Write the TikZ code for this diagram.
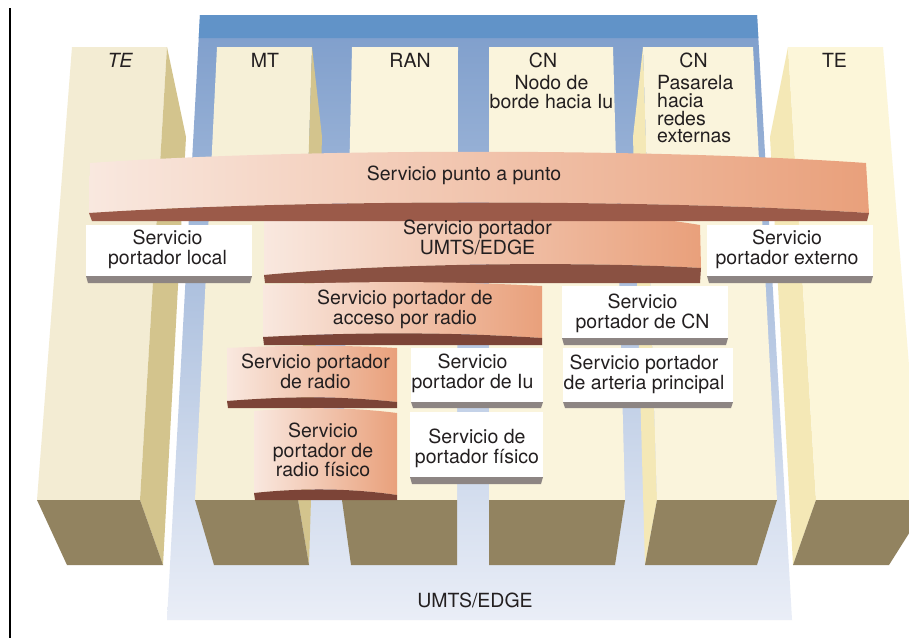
\documentclass[tikz,border=0pt]{standalone}
\usepackage{fontspec}
\setmainfont{TeX Gyre Heros}
\definecolor{txt}{HTML}{231F20}
\definecolor{bartop}{HTML}{6193C8}
\definecolor{frametop}{HTML}{7D9DCB}
\definecolor{framebot}{HTML}{EAEEF7}
\definecolor{tan}{HTML}{D3C48D}
\definecolor{ylw}{HTML}{F4E8B6}
\definecolor{foot}{HTML}{928360}
\definecolor{creamA}{HTML}{F3ECD3}
\definecolor{creamB}{HTML}{F6F0D7}
\definecolor{creamC}{HTML}{FAF4DC}
\definecolor{creamD}{HTML}{FCF6D9}
\definecolor{bandL}{HTML}{F9E8DF}
\definecolor{bandR}{HTML}{E9A07B}
\definecolor{brownA}{HTML}{9B5A49}
\definecolor{brownB}{HTML}{8A5142}
\definecolor{brownC}{HTML}{7C4437}
\definecolor{greyedge}{HTML}{8D8583}
\begin{document}
\begin{tikzpicture}[x=1pt,y=-1pt,
  lbl/.style={font=\fontsize{19.5}{19.3}\selectfont,align=center,text=txt,inner sep=0pt,anchor=north},
  band/.style={left color=bandL,right color=bandR},
  wbox/.style={fill=white},
  wedge/.style={fill=greyedge}]
\useasboundingbox (0,0) rectangle (909,638);
\clip (0,0) rectangle (909,638);
\fill[white] (0,0) rectangle (909,638);
% left rule
\draw[line width=1.6pt,black] (10,8) -- (10,638);
% blue frame
\shade[top color=frametop,bottom color=framebot] (200,15) -- (757,15) -- (792,620) -- (167,620) -- cycle;
\fill[bartop] (200,15) -- (757,15) -- (758.3,38) -- (198.7,38) -- cycle;
% TE left
\fill[creamA] (72,47) -- (167,47) -- (140,500) -- (37,500) -- cycle;
\fill[tan] (167,47) -- (186,137) -- (163,565) -- (140,500) -- cycle;
\fill[foot] (37,500) -- (140,500) -- (163,565) -- (67,565) -- cycle;
% MT
\fill[creamB] (217,47) -- (312,47) -- (298,500) -- (195,500) -- cycle;
\fill[tan] (312,47) -- (322,137) -- (309,565) -- (298,500) -- cycle;
\fill[foot] (195,500) -- (298,500) -- (309,565) -- (214,565) -- cycle;
% RAN
\fill[creamC] (352,47) -- (458,47) -- (457,500) -- (342,500) -- cycle;
\fill[foot] (342,500) -- (457,500) -- (457,565) -- (351,565) -- cycle;
% CN 1
\fill[creamC] (489,47) -- (613,47) -- (625,500) -- (489,500) -- cycle;
\fill[foot] (489,500) -- (625,500) -- (615,565) -- (489,565) -- cycle;
% CN 2
\fill[ylw] (643,47) -- (633,137) -- (645,565) -- (657,500) -- cycle;
\fill[creamC] (643,47) -- (753,47) -- (777,500) -- (657,500) -- cycle;
\fill[foot] (657,500) -- (777,500) -- (757,565) -- (645,565) -- cycle;
% TE right
\fill[ylw] (788,47) -- (770,137) -- (793,565) -- (816,500) -- cycle;
\fill[creamD] (788,47) -- (883,47) -- (920,500) -- (816,500) -- cycle;
\fill[foot] (816,500) -- (930,500) -- (889,565) -- (793,565) -- cycle;
% band 2 (UMTS/EDGE)
\shade[band] (264,221) .. controls (400,205) and (580,205) .. (700,225) -- (701,268) .. controls (600,262) and (400,262) .. (264,275) -- cycle;
\fill[brownB] (264,275) .. controls (400,262) and (600,262) .. (701,268) -- (700,283) -- (265,283) -- cycle;
% band 1 (punto a punto)
\shade[band] (90,163) .. controls (300,148) and (650,148) .. (866,163) -- (869,213) .. controls (650,199) and (300,199) .. (89,213) -- cycle;
\fill[brownA] (89,213) .. controls (300,199) and (650,199) .. (869,213) -- (867,221) -- (92,221) -- cycle;
% band 3 (acceso por radio)
\shade[band] (263,285) .. controls (360,281) and (450,281) .. (542,286) -- (542,338) .. controls (450,332) and (360,332) .. (263,337) -- cycle;
\fill[brownC] (263,337) .. controls (360,332) and (450,332) .. (542,338) -- (542,345) -- (264,345) -- cycle;
% band 4 (radio)
\shade[band] (227,348) .. controls (290,345) and (340,345) .. (397,348) -- (397,402) .. controls (340,396) and (290,396) .. (227,401) -- cycle;
\fill[brownC] (227,401) .. controls (290,396) and (340,396) .. (397,402) -- (397,408) -- (228,408) -- cycle;
% band 5 (radio fisico)
\shade[band] (254,411) .. controls (300,407) and (350,407) .. (397,413) -- (397,495) .. controls (350,488) and (300,488) .. (254,493) -- cycle;
\fill[brownC] (254,493) .. controls (300,488) and (350,488) .. (397,495) -- (397,500) -- (255,500) -- cycle;
% white boxes
\fill[wbox] (86,225) rectangle (252,276);
\fill[wedge] (86,276) -- (252,276) -- (250,283) -- (88,283) -- cycle;
\fill[wbox] (707,225) rectangle (873,276);
\fill[wedge] (707,276) -- (873,276) -- (871,283) -- (709,283) -- cycle;
\fill[wbox] (562,286) rectangle (728,338);
\fill[wedge] (562,338) -- (728,338) -- (726,345) -- (564,345) -- cycle;
\fill[wbox] (563,348) rectangle (733,402);
\fill[wedge] (563,402) -- (733,402) -- (731,408) -- (565,408) -- cycle;
\fill[wbox] (411,348) rectangle (543,402);
\fill[wedge] (411,402) -- (543,402) -- (541,408) -- (413,408) -- cycle;
\fill[wbox] (410,412) rectangle (543,477);
\fill[wedge] (410,477) -- (543,477) -- (541,484) -- (412,484) -- cycle;
% labels
\node[lbl,font=\fontsize{19.5}{19.3}\selectfont\itshape] (te1) at (120,53) {TE};
\node[lbl] (mt) at (265,53) {MT};
\node[lbl] (ran) at (410,53) {RAN};
\node[lbl] (cn1) at (543,53) {CN};
\node[lbl] (cn1s) at (551.5,75) {Nodo de\\borde hacia Iu};
\node[lbl] (cn2) at (693.5,53) {CN};
\node[lbl,align=left,anchor=north west,font=\fontsize{19.5}{17.8}\selectfont] (cn2s) at (657,75) {Pasarela\\hacia\\redes\\externas};
\node[lbl] (te2) at (834.5,53) {TE};
\node[lbl] (s1) at (464,166) {Servicio punto a punto};
\node[lbl] (s2) at (477.5,220) {Servicio portador\\UMTS/EDGE};
\node[lbl] (s3) at (405,290) {Servicio portador de\\acceso por radio};
\node[lbl] (s4) at (315.5,354) {Servicio portador\\de radio};
\node[lbl] (s5) at (323,423) {Servicio\\portador de\\radio físico};
\node[lbl] (s6) at (167.5,230) {Servicio\\portador local};
\node[lbl] (s7) at (787,230) {Servicio\\portador externo};
\node[lbl] (s8) at (642.5,294) {Servicio\\portador de CN};
\node[lbl] (s9) at (644,355) {Servicio portador\\de arteria principal};
\node[lbl] (s10) at (472.5,354) {Servicio\\portador de Iu};
\node[lbl] (s11) at (477,429) {Servicio de\\portador físico};
\node[lbl] (umts) at (475,593) {UMTS/EDGE};
\end{tikzpicture}
\end{document}
